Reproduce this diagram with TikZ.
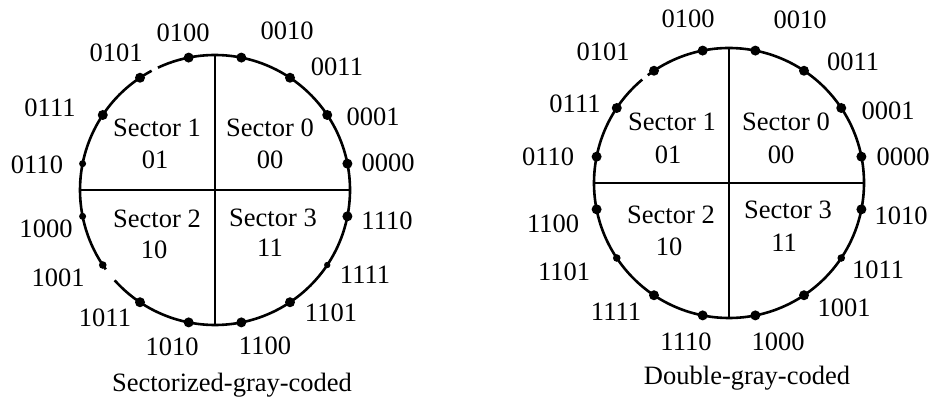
\documentclass[tikz,border=0pt]{standalone}
\usepackage{fontspec}
\setmainfont{Liberation Serif}
\usetikzlibrary{calc}
\begin{document}
\begin{tikzpicture}[x=1pt,y=1pt,
  rim/.style={line width=2.6pt},
  divider/.style={line width=2pt},
  code/.style={inner sep=0pt,font=\fontsize{26.5}{30}\selectfont},
  sectorlbl/.style={inner sep=0pt,font=\fontsize{26.5}{30}\selectfont},
  caption/.style={inner sep=0pt,font=\fontsize{26.5}{30}\selectfont},
  bigdot/.style={fill=black,draw=none},
]
\path[use as bounding box] (0,0) rectangle (933,403);

% ---------- Sectorized-gray-coded wheel ----------
\coordinate (L) at (215,213);
\draw[rim] (L) ++(118:135) arc[start angle=118,end angle=216,radius=135];
\draw[rim] (L) ++(222:135) arc[start angle=222,end angle=475,radius=135];
\draw[divider] ($(L)+(0,135)$) coordinate (Ltop) -- ($(L)+(0,-135)$) coordinate (Lbot);
\draw[divider] ($(L)+(-135,0)$) coordinate (Lleft) -- ($(L)+(135,0)$) coordinate (Lright);
\foreach \i/\r in {0/5,1/5,2/5,3/5,4/5,5/5,6/5,7/3.5,8/3.5,9/3.8,10/5,11/5,12/5,13/5,14/3.2,15/5}
  \fill[bigdot] (L) ++({11.25+22.5*\i}:135) circle (\r) coordinate (Ld\i);
\foreach \lab/\x/\y in {0000/388/240,0001/373/286,0011/337/336,0010/287/372,
                       0100/183/370,0101/116/350,0111/50/295,0110/37/238,
                       1000/46/174,1001/58/125,1011/105/85,1010/172/56,
                       1100/265/57,1101/331/90,1111/365/128,1110/387/182}
  \node[code] (Lc\lab) at (\x,\y) {\lab};
\node[sectorlbl] (Ls1) at (157,275) {Sector 1};
\node[sectorlbl] (Ln1) at (155,243) {01};
\node[sectorlbl] (Ls0) at (270,275) {Sector 0};
\node[sectorlbl] (Ln0) at (270,243) {00};
\node[sectorlbl] (Ls2) at (157,184) {Sector 2};
\node[sectorlbl] (Ln2) at (154,153) {10};
\node[sectorlbl] (Ls3) at (273,185) {Sector 3};
\node[sectorlbl] (Ln3) at (270,155) {11};
\node[caption] (Lcap) at (232,18) {Sectorized-gray-coded};

% ---------- Double-gray-coded wheel ----------
\coordinate (R) at (729,220);
\draw[rim] (R) ++(130:135) arc[start angle=130,end angle=487,radius=135];
\draw[divider] ($(R)+(0,135)$) coordinate (Rtop) -- ($(R)+(0,-135)$) coordinate (Rbot);
\draw[divider] ($(R)+(-135,0)$) coordinate (Rleft) -- ($(R)+(135,0)$) coordinate (Rright);
\foreach \i/\r in {0/5,1/5,2/5,3/5,4/5,5/5,6/5,7/5,8/5,9/3.8,10/5,11/5,12/5,13/5,14/3.8,15/5}
  \fill[bigdot] (R) ++({11.25+22.5*\i}:135) circle (\r) coordinate (Rd\i);
\foreach \lab/\x/\y in {0000/903/246,0001/888/292,0011/853/341,0010/800/383,
                       0100/688/384,0101/603/351,0111/575/299,0110/548/246,
                       1100/553/179,1101/564/131,1111/616/91,1110/686/61,
                       1000/778/61,1001/844/95,1011/878/133,1010/901/187}
  \node[code] (Rc\lab) at (\x,\y) {\lab};
\node[sectorlbl] (Rs1) at (672,281) {Sector 1};
\node[sectorlbl] (Rn1) at (668,248) {01};
\node[sectorlbl] (Rs0) at (786,281) {Sector 0};
\node[sectorlbl] (Rn0) at (781,248) {00};
\node[sectorlbl] (Rs2) at (671,188) {Sector 2};
\node[sectorlbl] (Rn2) at (669,156) {10};
\node[sectorlbl] (Rs3) at (788,193) {Sector 3};
\node[sectorlbl] (Rn3) at (784,160) {11};
\node[caption] (Rcap) at (747,25) {Double-gray-coded};
\end{tikzpicture}
\end{document}
